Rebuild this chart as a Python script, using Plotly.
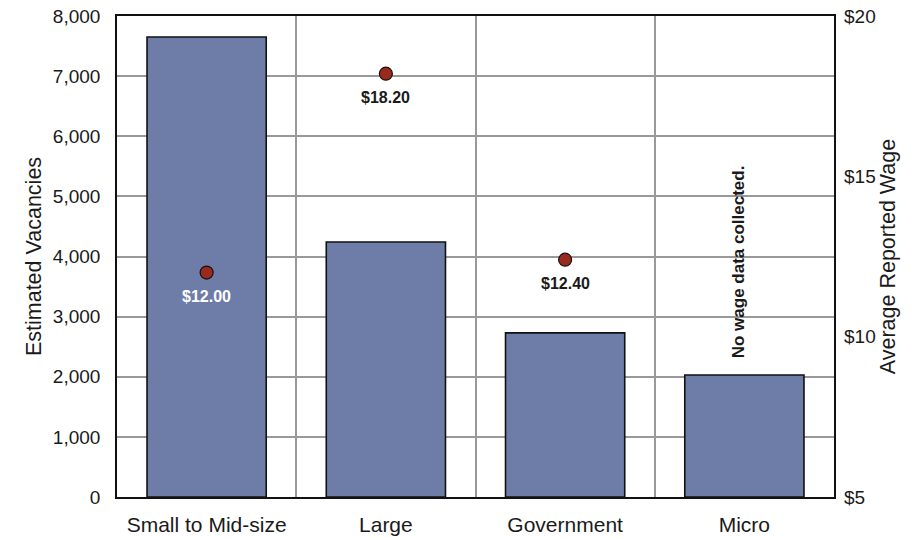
import plotly.graph_objects as go

categories = ["Small to Mid-size", "Large", "Government", "Micro"]
vacancies = [7650, 4240, 2730, 2030]
wage_cats = ["Small to Mid-size", "Large", "Government"]
wages = [12.00, 18.20, 12.40]
wage_labels = ["$12.00", "$18.20", "$12.40"]
wage_label_colors = ["white", "#1a1a1a", "#1a1a1a"]
left_ticks = [0, 1000, 2000, 3000, 4000, 5000, 6000, 7000, 8000]
right_ticks = [5, 10, 15, 20]
right_tick_text = ["$5", "$10", "$15", "$20"]

fig = go.Figure()
fig.add_trace(go.Bar(
    x=categories, y=vacancies,
    marker=dict(color="#6e7ca8", line=dict(color="#111111", width=1.6)),
    width=0.665, hoverinfo="x+y", showlegend=False,
))
fig.add_trace(go.Scatter(
    x=wage_cats, y=wages, yaxis="y2", mode="markers",
    marker=dict(color="#9b2a1e", size=13, line=dict(color="#111111", width=1.2)),
    showlegend=False,
))
for c, w, t, col in zip(wage_cats, wages, wage_labels, wage_label_colors):
    fig.add_annotation(
        x=c, y=w, xref="x", yref="y2", text="<b>" + t + "</b>", showarrow=False,
        yshift=-24, font=dict(family="Liberation Sans, Arial", size=16, color=col),
    )
fig.add_annotation(
    x="Micro", y=3910, xref="x", yref="y", text="<b>No wage data collected.</b>",
    textangle=-90, showarrow=False, xshift=-5,
    font=dict(family="Liberation Sans, Arial", size=17, color="#1a1a1a"),
)

tickfont = dict(family="Liberation Sans, Arial", size=19, color="#1a1a1a")
titlefont = dict(family="Liberation Sans, Arial", size=21.5, color="#1a1a1a")
fig.update_layout(
    width=913, height=538,
    margin=dict(l=117, r=79, t=16, b=41),
    paper_bgcolor="white", plot_bgcolor="white",
    xaxis=dict(
        type="category", tickson="boundaries", showgrid=True, gridcolor="#999999", gridwidth=1.5,
        ticks="", showline=True, linecolor="#111111", linewidth=1.6, mirror=True,
        tickfont=dict(family="Liberation Sans, Arial", size=21, color="#1a1a1a"),
        ticklabelstandoff=8, automargin=False,
        range=[-0.5, 3.5],
    ),
    yaxis=dict(
        range=[0, 8000], tickvals=left_ticks, tickformat=",d",
        showgrid=True, gridcolor="#999999", gridwidth=1.5, zeroline=False,
        showline=True, linecolor="#111111", linewidth=1.6, mirror=True,
        tickfont=tickfont, ticks="", ticklabelstandoff=11, automargin=False,
        ticklabeloverflow="allow",
        title=dict(text="Estimated Vacancies", font=titlefont, standoff=5),
    ),
    yaxis2=dict(
        range=[5, 20], overlaying="y", side="right", tickvals=right_ticks, ticktext=right_tick_text,
        showgrid=False, zeroline=False, tickfont=tickfont, ticks="", ticklabelstandoff=9,
        automargin=False, ticklabeloverflow="allow",
        title=dict(text="Average Reported Wage", font=titlefont, standoff=5),
    ),
)
fig.write_html("out.html", config={"displayModeBar": False},
               post_script="document.body.style.margin='0';")
